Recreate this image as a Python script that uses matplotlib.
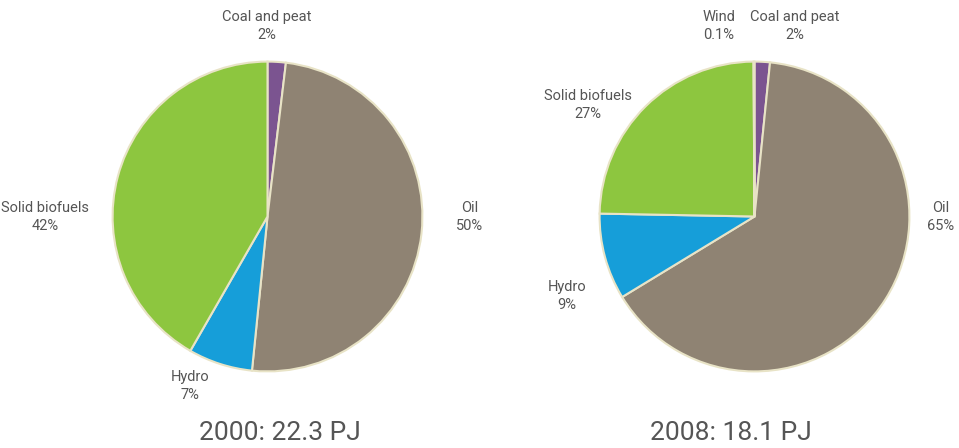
import matplotlib
matplotlib.use("Agg")
import matplotlib.pyplot as plt

# data (slice sizes from the wedge angles, labels as printed)
sources_2000 = ["Coal and peat", "Oil", "Hydro", "Solid biofuels"]
share_2000 = [1.9, 49.7, 6.7, 41.7]
pct_labels_2000 = ["2%", "50%", "7%", "42%"]

sources_2008 = ["Coal and peat", "Oil", "Hydro", "Solid biofuels", "Wind"]
share_2008 = [1.6, 64.7, 9.0, 24.6, 0.1]
pct_labels_2008 = ["2%", "65%", "9%", "27%", "0.1%"]

titles = ["2000: 22.3 PJ", "2008: 18.1 PJ"]

colors = {
    "Coal and peat": "#7B5490",
    "Oil": "#8F8373",
    "Hydro": "#169ED9",
    "Solid biofuels": "#8DC63F",
    "Wind": "#C9D98A",
}

W, H = 959, 448
plt.rcParams["font.family"] = ["Roboto", "DejaVu Sans"]
txt_color = "#555555"

fig = plt.figure(figsize=(W / 100, H / 100), dpi=100)


def px_axes(cx, cy, r):
    return fig.add_axes([(cx - r) / W, (H - cy - r) / H, 2 * r / W, 2 * r / H])


def draw_pie(ax, names, values):
    ax.pie(values, colors=[colors[n] for n in names], startangle=90,
           counterclock=False, radius=1,
           wedgeprops=dict(edgecolor="#E8E3C6", linewidth=1.5))
    ax.set_xlim(-1.02, 1.02)
    ax.set_ylim(-1.02, 1.02)
    ax.axis("off")


ax1 = px_axes(267.5, 216.5, 158)
draw_pie(ax1, sources_2000, share_2000)
ax2 = px_axes(754.5, 216.5, 158)
draw_pie(ax2, sources_2008, share_2008)

# label positions in pixels (centre of the two-line label)
pos_2000 = [(267, 26), (470, 217), (190, 386), (45, 217)]
pos_2008 = [(795, 26), (941, 217), (567, 296), (588, 105), (719, 26)]

for names, pcts, pos in [(sources_2000, pct_labels_2000, pos_2000),
                         (sources_2008, pct_labels_2008, pos_2008)]:
    for n, p, (x, y) in zip(names, pcts, pos):
        fig.text(x / W, 1 - y / H, f"{n}\n{p}", ha="center", va="center",
                 fontsize=10.5, color=txt_color, linespacing=1.3)

fig.text(280 / W, 1 - 433 / H, titles[0], ha="center", va="center",
         fontsize=19, color=txt_color)
fig.text(731 / W, 1 - 433 / H, titles[1], ha="center", va="center",
         fontsize=19, color=txt_color)

fig.savefig("out.png", dpi=100, facecolor="white")
